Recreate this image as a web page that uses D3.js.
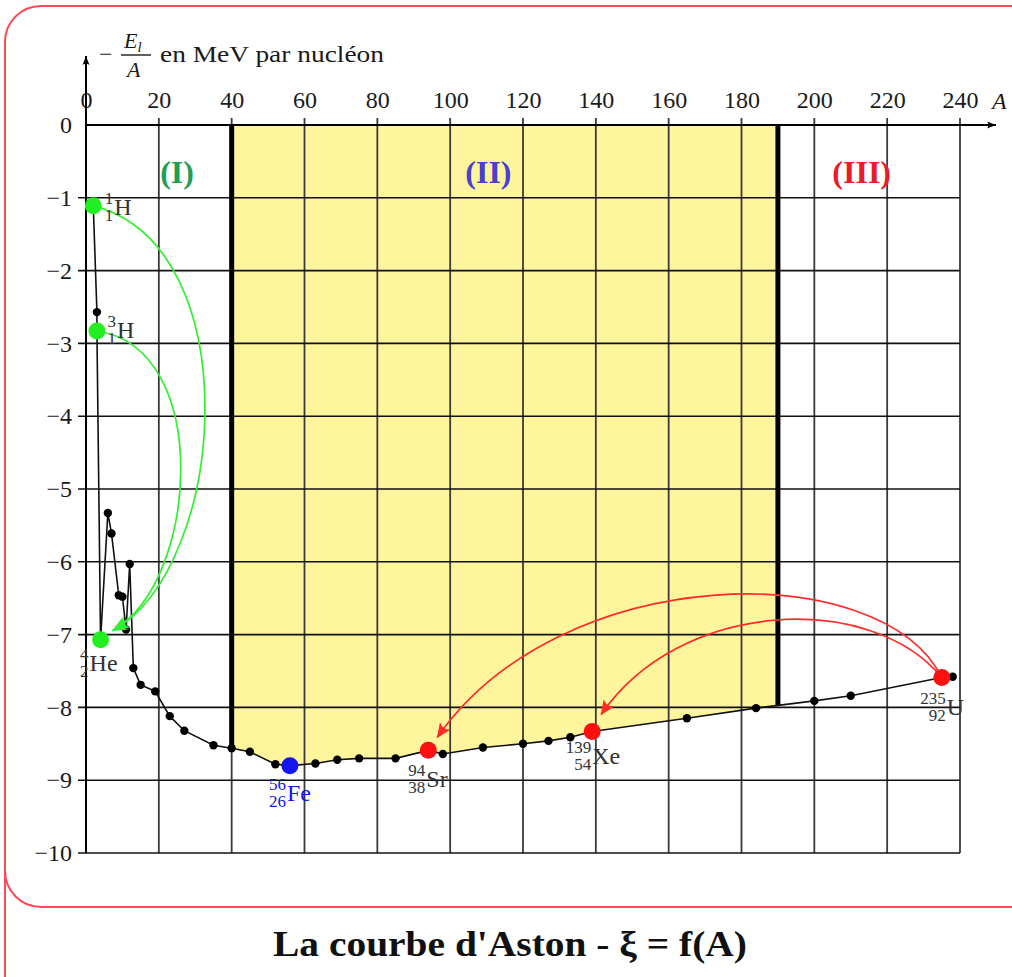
<!DOCTYPE html>
<html>
<head>
<meta charset="utf-8">
<script src="https://cdn.jsdelivr.net/npm/d3@7"></script>
<style>
  body { margin: 0; background: #fff; }
  svg { display: block; }
  text { font-family: "Liberation Serif", "DejaVu Serif", serif; }
</style>
</head>
<body>
<div id="chart"></div>
<script>
// mass number A and -El/A (MeV per nucleon)
const massNumbers = [2, 3, 3, 4, 6, 7, 9, 10, 11, 12, 13, 15, 19, 23, 27, 35, 40, 45, 52, 56,
  63, 69, 75, 85, 94, 98, 109, 120, 127, 133, 139, 165, 184, 200, 210, 235, 238];
const energyPerNucleon = [-1.11, -2.57, -2.83, -7.07, -5.33, -5.61, -6.46, -6.48, -6.93, -6.03,
  -7.46, -7.69, -7.78, -8.12, -8.32, -8.52, -8.56, -8.61, -8.78, -8.80,
  -8.77, -8.72, -8.70, -8.70, -8.59, -8.64, -8.55, -8.50, -8.46, -8.41,
  -8.33, -8.15, -8.01, -7.91, -7.84, -7.59, -7.58];

const xTickValues = [0, 20, 40, 60, 80, 100, 120, 140, 160, 180, 200, 220, 240];
const yTickValues = [0, -1, -2, -3, -4, -5, -6, -7, -8, -9, -10];

// zones of stability
const zoneLimits = [40, 190];
const zoneNames = ['(I)', '(II)', '(III)'];
const zoneLabelA = [25, 110.5, 213];
const zoneColors = ['#1f9f55', '#4a3fcf', '#ee1a2a'];

// highlighted nuclides (index into the arrays above)
const nuclideIndex = [0, 2, 3, 19, 24, 30, 35];
const nuclideMass = ['1', '3', '4', '56', '94', '139', '235'];
const nuclideZ = ['1', '1', '2', '26', '38', '54', '92'];
const nuclideSymbol = ['H', 'H', 'He', 'Fe', 'Sr', 'Xe', 'U'];
const nuclideColors = ['#22ee22', '#22ee22', '#22ee22', '#1515ee', '#ff1010', '#ff1010', '#ff1010'];
// label anchor offset (px) from dot: where the symbol starts on its baseline
const labelOffset = [[21, 9], [20, 7], [-11, 31], [-3, 35], [-2, 37], [0, 33], [5, 37]];
const labelColors = ['#333', '#333', '#333', '#1515ee', '#333', '#333', '#333'];

// fusion / fission arrows: from nuclide, to nuclide (positions in nuclideIndex)
const arrowFrom = [0, 1, 6, 6];
const arrowTo = [2, 2, 4, 5];
const arrowColor = ['#33ee33', '#33ee33', '#ff2a2a', '#ff2a2a'];
const arrowTip = [[12, -9], [14, -11], [9, -13], [9, -17]];
const arrowC1 = [[156, 39], [118, 17], [-61, -122], [-71, -87]];
const arrowC2 = [[116, -64], [82, -45], [123, -177], [78, -115]];

const W = 1012, H = 977;
const svg = d3.select('#chart').append('svg').attr('width', W).attr('height', H);

const x = d3.scaleLinear().domain([0, 240]).range([86, 960]);
const y = d3.scaleLinear().domain([-10, 0]).range([853, 125]);

const points = massNumbers.map((a, i) => ({A: a, E: energyPerNucleon[i]}));

// red frame
svg.append('rect')
  .attr('x', 5).attr('y', 6).attr('width', 1040).attr('height', 901)
  .attr('rx', 36).attr('ry', 36)
  .attr('fill', 'none').attr('stroke', '#ff4a55').attr('stroke-width', 2);
svg.append('line')
  .attr('x1', 5).attr('x2', 5).attr('y1', 870).attr('y2', H)
  .attr('stroke', '#ff4a55').attr('stroke-width', 2);

const defs = svg.append('defs');

// area between the axis (y=0) and the curve
const area = d3.area()
  .x(d => x(d.A))
  .y0(y(0))
  .y1(d => y(d.E));

defs.append('clipPath').attr('id', 'zoneII')
  .append('rect')
  .attr('x', x(zoneLimits[0])).attr('y', y(0))
  .attr('width', x(zoneLimits[1]) - x(zoneLimits[0]))
  .attr('height', y(-10) - y(0));

defs.append('clipPath').attr('id', 'underCurve')
  .append('path')
  .attr('d', area(points));

svg.append('path')
  .attr('d', area(points))
  .attr('fill', '#fff59d')
  .attr('clip-path', 'url(#zoneII)');

// grid
svg.append('g')
  .selectAll('line')
  .data(xTickValues)
  .join('line')
  .attr('x1', d => x(d)).attr('x2', d => x(d))
  .attr('y1', y(0) - 7).attr('y2', y(-10))
  .attr('stroke', '#3a3a3a').attr('stroke-width', 1.8);

svg.append('g')
  .selectAll('line')
  .data(yTickValues.filter(d => d !== 0))
  .join('line')
  .attr('x1', x(0) - 8).attr('x2', x(240))
  .attr('y1', d => y(d)).attr('y2', d => y(d))
  .attr('stroke', '#111').attr('stroke-width', 1.6);

// thick zone boundaries, stopped at the curve
svg.append('g')
  .attr('clip-path', 'url(#underCurve)')
  .selectAll('line')
  .data(zoneLimits)
  .join('line')
  .attr('x1', d => x(d)).attr('x2', d => x(d))
  .attr('y1', y(0)).attr('y2', y(-10))
  .attr('stroke', '#000').attr('stroke-width', 5);

// arrow markers
arrowColor.forEach((c, i) => {
  defs.append('marker')
    .attr('id', 'arrow' + i)
    .attr('markerUnits', 'userSpaceOnUse')
    .attr('viewBox', '-15 -8 17 16')
    .attr('refX', 0).attr('refY', 0)
    .attr('markerWidth', 17).attr('markerHeight', 16)
    .attr('orient', 'auto')
    .append('path')
    .attr('d', 'M1,0 L-14,-6.5 Q-9,0 -14,6.5 Z')
    .attr('fill', c);
});

// axes
const xAxis = d3.axisTop(x).tickValues(xTickValues).tickSize(0).tickPadding(17);
const gx = svg.append('g').attr('transform', `translate(0,${y(0)})`).call(xAxis);
gx.select('.domain').remove();
gx.selectAll('text').attr('font-size', 24).attr('fill', '#1a1a1a')
  .style('font-family', '"Liberation Serif", serif');

const yAxis = d3.axisLeft(y).tickValues(yTickValues).tickSize(0).tickPadding(14)
  .tickFormat(d => d === 0 ? '0' : '\u2212' + Math.abs(d));
const gy = svg.append('g').attr('transform', `translate(${x(0)},0)`).call(yAxis);
gy.select('.domain').remove();
gy.selectAll('text').attr('font-size', 24).attr('fill', '#1a1a1a')
  .style('font-family', '"Liberation Serif", serif');

// axis lines with arrow heads
defs.append('marker')
  .attr('id', 'axisArrow')
  .attr('markerUnits', 'userSpaceOnUse')
  .attr('viewBox', '-10 -5 11 10')
  .attr('refX', 0).attr('refY', 0)
  .attr('markerWidth', 11).attr('markerHeight', 10)
  .attr('orient', 'auto')
  .append('path')
  .attr('d', 'M0,0 L-9,-3.5 Q-6,0 -9,3.5 Z')
  .attr('fill', '#000');

svg.append('line')
  .attr('x1', x(0)).attr('x2', 996)
  .attr('y1', y(0)).attr('y2', y(0))
  .attr('stroke', '#000').attr('stroke-width', 2.2)
  .attr('marker-end', 'url(#axisArrow)');
svg.append('line')
  .attr('x1', x(0)).attr('x2', x(0))
  .attr('y1', y(-10)).attr('y2', 56)
  .attr('stroke', '#000').attr('stroke-width', 2)
  .attr('marker-end', 'url(#axisArrow)');

svg.append('text')
  .attr('x', 992).attr('y', 109)
  .attr('font-size', 24).attr('font-style', 'italic').attr('fill', '#1a1a1a')
  .text('A');

// y axis title:  - El/A en MeV par nucléon
const yt = svg.append('g').attr('fill', '#1a1a1a');
yt.append('text').attr('x', 99).attr('y', 62).attr('font-size', 24).text('\u2212');
yt.append('text').attr('x', 124).attr('y', 48).attr('font-size', 22)
  .attr('font-style', 'italic').text('E')
  .append('tspan').attr('font-size', 15).attr('dy', 4).text('l');
yt.append('line').attr('x1', 121).attr('x2', 151).attr('y1', 55).attr('y2', 55)
  .attr('stroke', '#1a1a1a').attr('stroke-width', 1.4);
yt.append('text').attr('x', 127).attr('y', 77).attr('font-size', 22)
  .attr('font-style', 'italic').text('A');
yt.append('text').attr('x', 160).attr('y', 62).attr('font-size', 24)
  .attr('textLength', 224).attr('lengthAdjust', 'spacingAndGlyphs')
  .text('en MeV par nucléon');

// zone names
svg.append('g')
  .selectAll('text')
  .data(zoneNames)
  .join('text')
  .attr('x', (d, i) => x(zoneLabelA[i]))
  .attr('y', 183)
  .attr('text-anchor', 'middle')
  .attr('font-size', 32).attr('font-weight', 'bold')
  .attr('fill', (d, i) => zoneColors[i])
  .text(d => d);

// the curve
svg.append('path')
  .datum(points)
  .attr('d', d3.line().x(d => x(d.A)).y(d => y(d.E)))
  .attr('fill', 'none').attr('stroke', '#111').attr('stroke-width', 1.6);

svg.append('g')
  .selectAll('circle')
  .data(points)
  .join('circle')
  .attr('cx', d => x(d.A)).attr('cy', d => y(d.E))
  .attr('r', 4.2).attr('fill', '#000');

// arrows (fusion in green, fission in red)
const dot = k => {
  const p = points[nuclideIndex[k]];
  return [x(p.A), y(p.E)];
};
svg.append('g')
  .selectAll('path')
  .data(arrowFrom)
  .join('path')
  .attr('d', (f, i) => {
    const p0 = dot(f);
    const t = dot(arrowTo[i]);
    const p3 = [t[0] + arrowTip[i][0], t[1] + arrowTip[i][1]];
    const c1 = [p0[0] + arrowC1[i][0], p0[1] + arrowC1[i][1]];
    const c2 = [p3[0] + arrowC2[i][0], p3[1] + arrowC2[i][1]];
    const p = d3.path();
    p.moveTo(p0[0], p0[1]);
    p.bezierCurveTo(c1[0], c1[1], c2[0], c2[1], p3[0], p3[1]);
    return p.toString();
  })
  .attr('fill', 'none')
  .attr('stroke', (d, i) => arrowColor[i])
  .attr('stroke-width', 1.7)
  .attr('marker-end', (d, i) => `url(#arrow${i})`);

// highlighted nuclides
svg.append('g')
  .selectAll('circle')
  .data(nuclideIndex)
  .join('circle')
  .attr('cx', d => x(points[d].A)).attr('cy', d => y(points[d].E))
  .attr('r', 8.5)
  .attr('fill', (d, i) => nuclideColors[i]);

const labels = svg.append('g')
  .selectAll('g')
  .data(nuclideIndex)
  .join('g')
  .attr('transform', (d, i) => `translate(${x(points[d].A) + labelOffset[i][0]},${y(points[d].E) + labelOffset[i][1]})`)
  .attr('fill', (d, i) => labelColors[i]);

labels.append('text')
  .attr('x', -1).attr('y', -11)
  .attr('text-anchor', 'end').attr('font-size', 17)
  .text((d, i) => nuclideMass[i]);
labels.append('text')
  .attr('x', -1).attr('y', 6)
  .attr('text-anchor', 'end').attr('font-size', 17)
  .text((d, i) => nuclideZ[i]);
labels.append('text')
  .attr('x', 0).attr('y', 0)
  .attr('font-size', 24)
  .text((d, i) => nuclideSymbol[i]);

// caption
svg.append('text')
  .attr('x', 510).attr('y', 956)
  .attr('text-anchor', 'middle')
  .attr('font-size', 35).attr('font-weight', 'bold').attr('fill', '#111')
  .attr('textLength', 474).attr('lengthAdjust', 'spacingAndGlyphs')
  .text("La courbe d'Aston - \u03be = f(A)");
</script>
</body>
</html>
